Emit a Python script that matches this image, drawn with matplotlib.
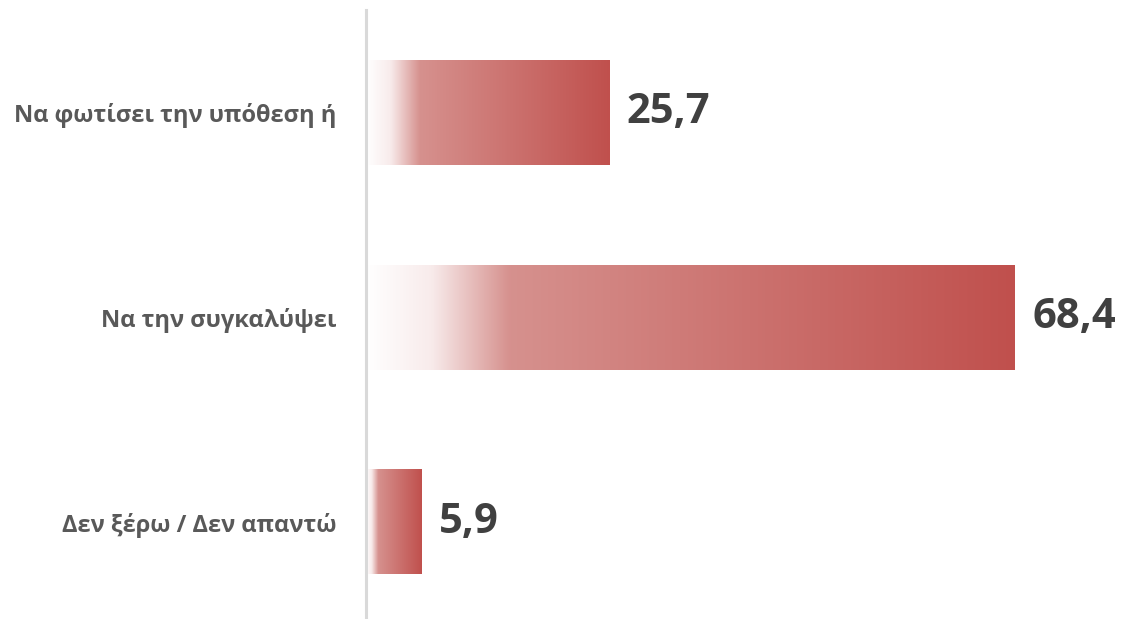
import numpy as np
import matplotlib
matplotlib.use("Agg")
import matplotlib.pyplot as plt
from matplotlib.colors import LinearSegmentedColormap

categories = ["Να φωτίσει την υπόθεση ή", "Να την συγκαλύψει", "Δεν ξέρω / Δεν απαντώ"]
values = [25.7, 68.4, 5.9]
value_labels = ["25,7", "68,4", "5,9"]

W, H = 1125, 619
fig = plt.figure(figsize=(W / 100, H / 100), dpi=100)
ax = fig.add_axes([366 / W, 0, 1 - 366 / W, 1])

cmap = LinearSegmentedColormap.from_list(
    "grad",
    [(0.0, (1, 1, 1)),
     (0.10, (248 / 255, 235 / 255, 235 / 255)),
     (0.22, (214 / 255, 145 / 255, 142 / 255)),
     (1.0, (192 / 255, 80 / 255, 77 / 255))])
grad = np.linspace(0, 1, 256).reshape(1, -1)

bar_h = 0.51
for i, (v, lab) in enumerate(zip(values, value_labels)):
    ax.imshow(grad, cmap=cmap, aspect="auto", interpolation="bilinear",
              extent=(0, v, i + bar_h / 2, i - bar_h / 2), zorder=2)
    ax.text(v + 1.8, i, lab, ha="left", va="center", fontsize=30,
            fontweight="bold", color="#404040", family="Open Sans")

ax.set_xlim(0, 80)
ax.set_ylim((619 - 113) / 204.5, -113 / 204.5)
ax.set_yticks(range(len(categories)))
ax.set_yticklabels(categories, fontsize=17, fontweight="bold", color="#595959",
                   family="Open Sans")
ax.tick_params(axis="y", length=0, pad=21)
ax.set_xticks([])
for s in ["top", "right", "bottom"]:
    ax.spines[s].set_visible(False)
ax.spines["left"].set_color("#D9D9D9")
ax.spines["left"].set_linewidth(2.2)
ax.spines["left"].set_bounds((619 - 113) / 204.5, (10 - 113) / 204.5)
ax.set_zorder(1)

fig.savefig("out.png", dpi=100)
